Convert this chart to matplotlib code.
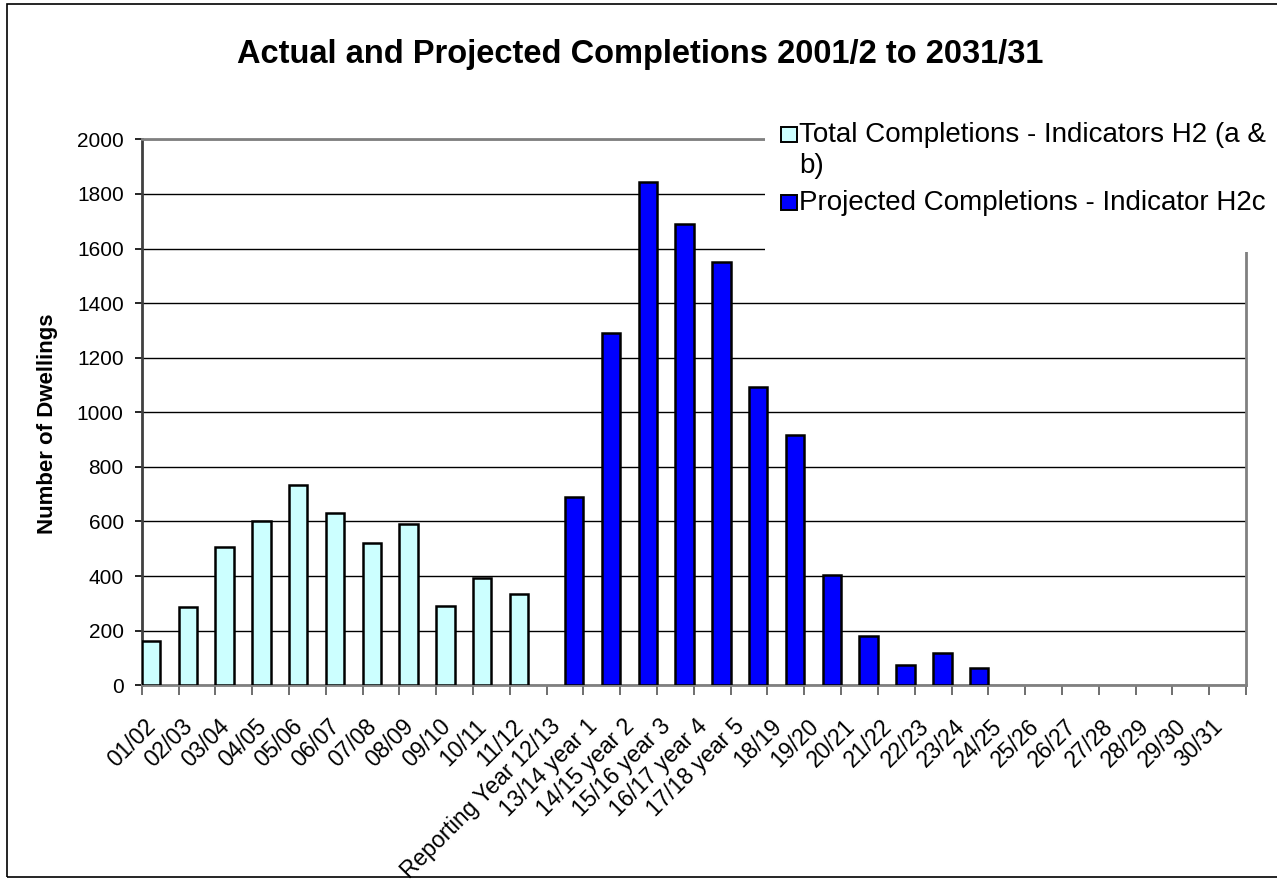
import matplotlib.pyplot as plt
import matplotlib.transforms as mtransforms
from matplotlib.patches import Rectangle
import numpy as np

plt.rcParams['font.family'] = ['Liberation Sans', 'DejaVu Sans']

years = ['01/02', '02/03', '03/04', '04/05', '05/06', '06/07', '07/08', '08/09',
         '09/10', '10/11', '11/12', 'Reporting Year 12/13', '13/14 year 1',
         '14/15 year 2', '15/16 year 3', '16/17 year 4', '17/18 year 5',
         '18/19', '19/20', '20/21', '21/22', '22/23', '23/24', '24/25',
         '25/26', '26/27', '27/28', '28/29', '29/30', '30/31']
total = [162, 288, 505, 602, 732, 630, 522, 590, 290, 392, 333]
projected = [691, 1289, 1845, 1689, 1551, 1092, 918, 404, 180, 74, 118, 65]

light = '#CCFFFF'
blue = '#0000FF'
W, H = 1277, 888

total_vals = total + [0] * (len(years) - len(total))
proj_vals = [0] * 11 + projected + [0] * (len(years) - 11 - len(projected))

fig = plt.figure(figsize=(12.77, 8.88), dpi=100)
ax = fig.add_axes([0.111, 0.2283, 0.8647, 0.6148])

x = np.arange(len(years))
b1 = ax.bar(x - 0.25, total_vals, width=0.5, color=light, edgecolor='black',
            linewidth=1.8, zorder=3)
b2 = ax.bar(x + 0.25, proj_vals, width=0.5, color=blue, edgecolor='black',
            linewidth=1.8, zorder=3)
# hide zero-height bars
for r in list(b1) + list(b2):
    if r.get_height() == 0:
        r.set_visible(False)

ax.set_xlim(-0.5, len(years) - 0.5)
ax.set_ylim(0, 2000)
ax.set_yticks(range(0, 2001, 200))
ax.yaxis.grid(True, color='black', linewidth=1, zorder=0)
ax.set_axisbelow(True)

ax.set_xticks(x)
ax.set_xticklabels(years, rotation=45, ha='right', va='center', rotation_mode='anchor')
ax.set_xticks(np.arange(-0.5, len(years)), minor=True)
ax.tick_params(axis='x', which='major', length=0, pad=27, labelsize=16.5)
ax.tick_params(axis='x', which='minor', length=7, width=1.2, color='#555555', direction='out')
ax.tick_params(axis='y', length=5, width=1.2, pad=8, labelsize=15, direction='out')
offset = mtransforms.ScaledTranslation(-8 / 100, 0, fig.dpi_scale_trans)
for lab in ax.get_xticklabels():
    lab.set_transform(lab.get_transform() + offset)

for side in ['top', 'right', 'bottom']:
    ax.spines[side].set_color('#808080')
    ax.spines[side].set_linewidth(2)
ax.spines['left'].set_color('#404040')
ax.spines['left'].set_linewidth(2)

ax.set_ylabel('Number of Dwellings', fontsize=16, fontweight='bold')
ax.yaxis.set_label_coords(-0.0755, 0.4786)

fig.text(0.501, 1 - 63 / H, 'Actual and Projected Completions 2001/2 to 2031/31',
         ha='center', va='baseline', fontsize=23.5, fontweight='bold')

# legend: white area over the plot's top right corner, then keys and labels
fig.add_artist(Rectangle((765 / W, 1 - 252 / H), 0.5, 140 / H,
                         transform=fig.transFigure, facecolor='white',
                         edgecolor='none', zorder=5))
legend_items = [(light, ['Total Completions - Indicators H2 (a &', 'b)'], 142),
                (blue, ['Projected Completions - Indicator H2c'], 210)]
for colour, lines, base in legend_items:
    fig.add_artist(Rectangle((781 / W, 1 - base / H), 16 / W, 15 / H,
                             transform=fig.transFigure, facecolor=colour,
                             edgecolor='black', linewidth=1.4, zorder=6))
    for k, line in enumerate(lines):
        fig.text(799 / W, 1 - (base + 31 * k) / H, line, ha='left',
                 va='baseline', fontsize=20, zorder=7)

# outer chart border
fig.add_artist(Rectangle((7 / W, 11 / H), 1.2, 1 - 15 / H,
                         transform=fig.transFigure, fill=False,
                         edgecolor='black', linewidth=1.2))

fig.savefig('out.png', dpi=100)
